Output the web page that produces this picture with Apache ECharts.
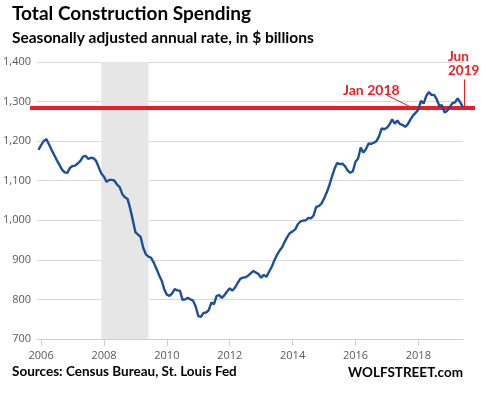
<!DOCTYPE html>
<html><head><meta charset="utf-8">
<script src="https://cdn.jsdelivr.net/npm/echarts@6/dist/echarts.min.js"></script>
<style>html,body{margin:0;padding:0;background:#fff}#c{width:482px;height:399px}</style>
</head><body><div id="c"></div>
<script>
// Monthly total construction spending, SAAR, $ billions (Dec 2005 - Jun 2019)
const years = [2005, 2006, 2007, 2008, 2009, 2010, 2011, 2012, 2013, 2014, 2015, 2016, 2017, 2018, 2019];
const firstMonthIndex = [11, 0, 0, 0, 0, 0, 0, 0, 0, 0, 0, 0, 0, 0, 0];
const v2005 = [1178];
const v2006 = [1190, 1200, 1205, 1192, 1178, 1165, 1152, 1140, 1128, 1121, 1120, 1132];
const v2007 = [1137, 1138, 1144, 1150, 1161, 1163, 1155, 1158, 1157, 1150, 1134, 1118];
const v2008 = [1110, 1097, 1102, 1102, 1100, 1090, 1084, 1066, 1058, 1054, 1030, 1001];
const v2009 = [970, 964, 958, 930, 914, 908, 905, 893, 878, 862, 848, 826];
const v2010 = [812, 809, 815, 826, 823, 822, 799, 800, 804, 800, 797, 782];
const v2011 = [758, 756, 766, 767, 773, 792, 788, 809, 811, 804, 811, 820];
const v2012 = [828, 822, 830, 841, 852, 855, 856, 860, 866, 872, 868, 864];
const v2013 = [855, 862, 857, 870, 882, 898, 912, 923, 932, 946, 958, 968];
const v2014 = [972, 977, 990, 997, 999, 1000, 1006, 1005, 1012, 1034, 1036, 1042];
const v2015 = [1055, 1070, 1088, 1110, 1130, 1145, 1142, 1143, 1137, 1126, 1120, 1124];
const v2016 = [1148, 1156, 1184, 1171, 1180, 1194, 1193, 1196, 1200, 1212, 1232, 1230];
const v2017 = [1234, 1242, 1255, 1244, 1252, 1243, 1241, 1236, 1243, 1255, 1265, 1272];
const v2018 = [1280, 1302, 1295, 1314, 1324, 1317, 1317, 1306, 1289, 1291, 1272, 1277];
const v2019 = [1286, 1296, 1298, 1308, 1298, 1286];
const yearValues = [v2005, v2006, v2007, v2008, v2009, v2010, v2011, v2012, v2013, v2014, v2015, v2016, v2017, v2018, v2019];

const xTickYears = [2006, 2008, 2010, 2012, 2014, 2016, 2018];
const yTicks = [700, 800, 900, 1000, 1100, 1200, 1300, 1400];
const recession = [2007 + 11 / 12, 2009 + 5 / 12]; // Dec 2007 - Jun 2009
const jan2018Level = [1284];
const jan2018Leader = [[2017.01, 1316], [2017.80, 1285]];
const jun2019Leader = [[2019.45, 1356], [2019.45, 1287]];

const points = [];
years.forEach((y, k) => {
  yearValues[k].forEach((v, m) => points.push([y + (firstMonthIndex[k] + m) / 12, v]));
});

const X0 = 2005.87, X1 = 2019.42;
const pxPerYear = (482 - 35 - 19) / (X1 - X0);
const X0w = X0 - 5 / pxPerYear, X1w = X1 + 12 / pxPerYear;

const chart = echarts.init(document.getElementById('c'), null, { renderer: 'canvas' });
const labelFont = '"Open Sans", sans-serif';
const boldFont = 'Lato, sans-serif';
const red = '#ed1c24';
chart.setOption({
  animation: false,
  backgroundColor: '#ffffff',
  grid: [
    { left: 35, right: 19, top: 62, bottom: 60 },
    { left: 30, right: 7, top: 62, bottom: 60 }
  ],
  xAxis: [
    {
      type: 'value', gridIndex: 0, min: X0, max: X1,
      axisLine: { show: true, lineStyle: { color: '#c8d0df', width: 1 } },
      axisTick: { show: true, customValues: xTickYears, length: 7, lineStyle: { color: '#c8d0df' } },
      axisLabel: { customValues: xTickYears, margin: 11, color: '#595959', fontSize: 11, fontFamily: labelFont, formatter: v => String(Math.round(v)) },
      splitLine: { show: false }
    },
    { type: 'value', gridIndex: 1, min: X0w, max: X1w, show: false }
  ],
  yAxis: [
    {
      type: 'value', gridIndex: 0, min: yTicks[0], max: yTicks[yTicks.length - 1], interval: 100,
      axisLine: { show: false }, axisTick: { show: false },
      axisLabel: { margin: 6, color: '#595959', fontSize: 11, fontFamily: labelFont, formatter: v => v.toLocaleString('en-US') },
      splitLine: { lineStyle: { color: '#d9d9d9', width: 1 } }
    },
    { type: 'value', gridIndex: 1, min: yTicks[0], max: yTicks[yTicks.length - 1], show: false }
  ],
  series: [
    {
      type: 'line', xAxisIndex: 1, yAxisIndex: 1, z: 3,
      data: [[X0w, jan2018Level[0]], [X1w, jan2018Level[0]]],
      symbol: 'none', lineStyle: { color: red, width: 4 }, silent: true,
      markLine: {
        silent: true, symbol: 'none', label: { show: false },
        lineStyle: { color: red, width: 1, type: 'solid' },
        data: [
          [{ coord: jan2018Leader[0] }, { coord: jan2018Leader[1] }],
          [{ coord: jun2019Leader[0] }, { coord: jun2019Leader[1] }]
        ]
      }
    },
    {
      type: 'line', xAxisIndex: 0, yAxisIndex: 0, z: 4,
      data: points, symbol: 'none', smooth: false,
      lineStyle: { color: '#1b4f98', width: 2.4 },
      markArea: {
        silent: true, itemStyle: { color: '#e6e6e6' },
        data: [[{ xAxis: recession[0] }, { xAxis: recession[1] }]]
      }
    }
  ],
  graphic: [
    { type: 'text', left: 12, top: 4, style: { text: 'Total Construction Spending', font: 'bold 19px ' + boldFont, fill: '#000' } },
    { type: 'text', left: 12, top: 30, style: { text: 'Seasonally adjusted annual rate, in $ billions', font: 'bold 15.5px ' + boldFont, fill: '#000' } },
    { type: 'text', left: 12, top: 365, style: { text: 'Sources: Census Bureau, St. Louis Fed', font: 'bold 13.5px ' + boldFont, fill: '#000' } },
    { type: 'text', right: 19, top: 366, style: { text: 'WOLFSTREET.com', font: 'bold 13.5px ' + boldFont, fill: '#000' } },
    { type: 'text', left: 343, top: 83, style: { text: 'Jan 2018', font: 'bold 14px ' + boldFont, fill: red } },
    { type: 'text', left: 448, top: 50, style: { text: 'Jun\n2019', font: 'bold 13.5px ' + boldFont, fill: red, align: 'center', lineHeight: 14, x: 16 } }
  ]
});
</script></body></html>
